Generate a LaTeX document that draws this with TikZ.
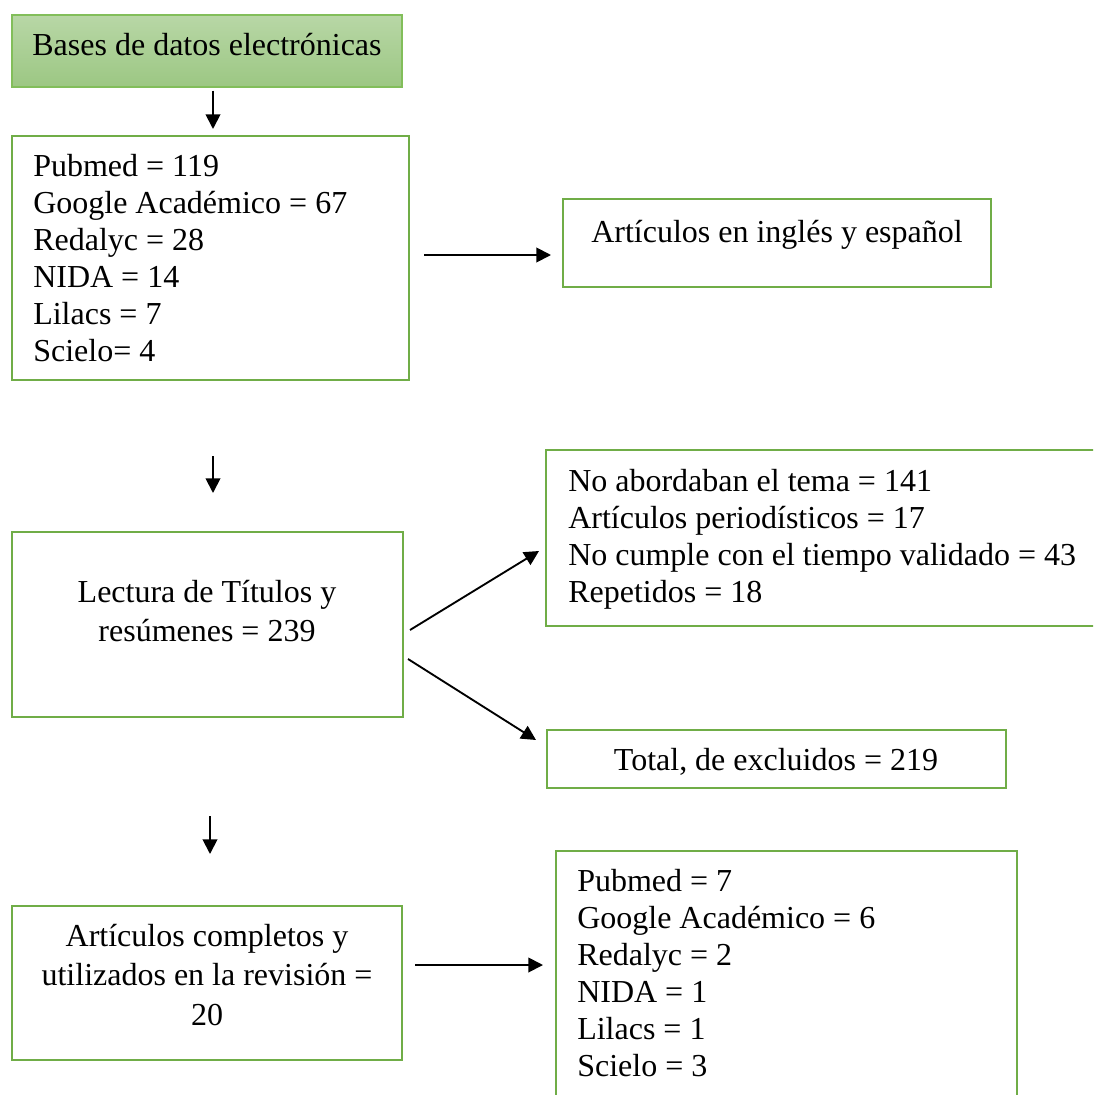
\documentclass[tikz,border=0pt]{standalone}
\usepackage{fontspec}
\setmainfont{Liberation Serif}
\usetikzlibrary{calc,arrows.meta}
\definecolor{boxgreen}{RGB}{112,173,71}
\definecolor{topgreen}{RGB}{184,215,166}
\definecolor{botgreen}{RGB}{156,199,131}
\definecolor{edgegreen}{RGB}{130,190,90}
\begin{document}
\begin{tikzpicture}[x=0.75pt,y=-0.75pt,
  box/.style={draw=boxgreen,line width=1.5pt,rectangle,inner sep=0pt},
  txt/.style={inner sep=0pt,font=\fontsize{24}{27.75}\selectfont},
  ctxt/.style={inner sep=0pt,font=\fontsize{24}{29.8}\selectfont},
  arr/.style={line width=1.4pt,-{Triangle[length=11pt,width=11pt]}}]
\clip (0,0) rectangle (1093,1095);
\fill[white] (0,0) rectangle (1093,1095);
% boxes
\node[rectangle,draw=edgegreen,line width=0.9pt,top color=topgreen,bottom color=botgreen,
  minimum width=292.5pt,minimum height=54pt] (b1) at (207,51) {};
\node[box,minimum width=297.75pt,minimum height=183pt] (b2) at (210.5,258) {};
\node[box,minimum width=321pt,minimum height=66pt] (b3) at (777,243) {};
\node[box,minimum width=293.25pt,minimum height=138.75pt] (b4) at (207.5,624.5) {};
\node[box,minimum width=423pt,minimum height=132pt] (b5) at (828,538) {};
\node[box,minimum width=344.25pt,minimum height=43.5pt] (b6) at (776.5,759) {};
\node[box,minimum width=292.5pt,minimum height=115.5pt] (b7) at (207,983) {};
\node[box,minimum width=345.75pt,minimum height=194.25pt] (b8) at (786.5,980.5) {};
% texts
\node[txt,anchor=base] (t1) at (207,56) {Bases de datos electrónicas};
\node[txt,anchor=base west] (t2) at (33,176) {\begin{tabular}[t]{@{}l@{}}Pubmed = 119\\ Google Académico = 67\\ Redalyc = 28\\ NIDA = 14\\ Lilacs = 7\\ Scielo= 4\end{tabular}};
\node[txt,anchor=base] (t3) at (777,242) {Artículos en inglés y español};
\node[ctxt,anchor=base] (t4) at (207,602) {\begin{tabular}[t]{@{}c@{}}Lectura de Títulos y\\ resúmenes = 239\end{tabular}};
\node[txt,anchor=base west] (t5) at (568,491) {\begin{tabular}[t]{@{}l@{}}No abordaban el tema = 141\\ Artículos periodísticos = 17\\ No cumple con el tiempo validado = 43\\ Repetidos = 18\end{tabular}};
\node[txt,anchor=base] (t6) at (776,770) {Total, de excluidos = 219};
\node[ctxt,anchor=base] (t7) at (207,946) {\begin{tabular}[t]{@{}c@{}}Artículos completos y\\ utilizados en la revisión =\\ 20\end{tabular}};
\node[txt,anchor=base west] (t8) at (577,891) {\begin{tabular}[t]{@{}l@{}}Pubmed = 7\\ Google Académico = 6\\ Redalyc = 2\\ NIDA = 1\\ Lilacs = 1\\ Scielo = 3\end{tabular}};
% connectors
\draw[arr] ($(b1.south)+(6,3)$) -- ($(b2.north)+(2.5,-6)$);
\draw[arr] ($(b2.east)+(14,-3)$) -- ($(b3.west)+(-11,12)$);
\draw[arr] ($(b2.south)+(2.5,75)$) -- ($(b4.north)+(5.5,-38)$);
\draw[arr] ($(b4.east)+(6,5.5)$) -- ($(b5.west)+(-6,13)$);
\draw[arr] ($(b4.east)+(4,34.5)$) -- ($(b6.west)+(-10,-19)$);
\draw[arr] ($(b4.south)+(2.5,98)$) -- ($(b7.north)+(3,-51)$);
\draw[arr] ($(b7.east)+(12,-18)$) -- ($(b8.west)+(-12,-15.5)$);
\end{tikzpicture}
\end{document}
